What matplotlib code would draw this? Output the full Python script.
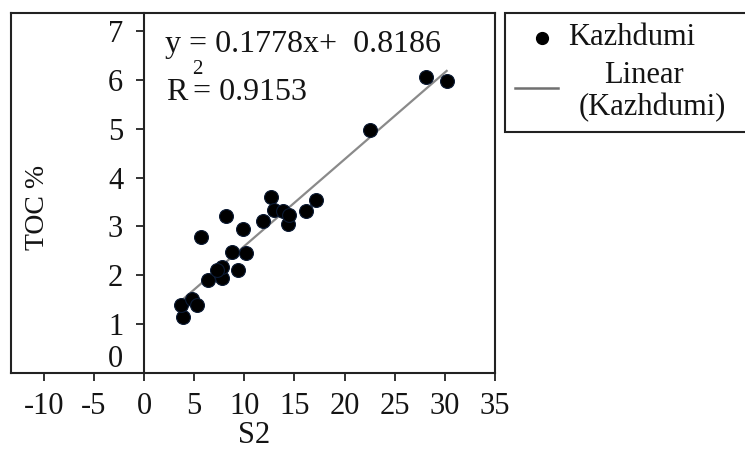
import matplotlib
matplotlib.use("Agg")
import matplotlib.pyplot as plt
from matplotlib.lines import Line2D
from matplotlib.patches import Rectangle
from matplotlib.transforms import ScaledTranslation
import numpy as np

plt.rcParams['font.family'] = ['Liberation Serif', 'DejaVu Serif']
plt.rcParams['axes.unicode_minus'] = False

# ---- data ----
s2 = [3.86, 3.66, 4.76, 5.25, 6.35, 7.75, 7.75, 9.40, 8.74, 10.17, 5.65, 8.15,
      9.90, 11.83, 12.66, 12.96, 13.83, 14.39, 14.46, 16.20, 17.15, 22.53,
      28.12, 30.18, 7.30]
toc = [1.15, 1.40, 1.51, 1.40, 1.91, 1.95, 2.17, 2.10, 2.48, 2.46, 2.79, 3.22,
       2.94, 3.12, 3.60, 3.34, 3.32, 3.05, 3.24, 3.32, 3.55, 4.97,
       6.06, 5.97, 2.10]
slope = 0.1778
intercept = 0.8186
r2 = 0.9153
series_name = "Kazhdumi"
x_ticks = [-10, -5, 0, 5, 10, 15, 20, 25, 30, 35]
y_ticks = [0, 1, 2, 3, 4, 5, 6, 7]

W, H = 745, 450
fig = plt.figure(figsize=(W / 100, H / 100), dpi=100)
ax = fig.add_axes([11 / W, 77 / H, 484 / W, 360 / H])

FS = 22
tc = '#141414'

ax.scatter(s2, toc, s=100, color='black', edgecolors='#0b1a33', linewidths=0.8, zorder=3)
xf = np.array([min(s2), max(s2)])
ax.plot(xf, slope * xf + intercept, color='#8a8a8a', lw=1.6, zorder=2)

ax.set_xlim(-13.26, 35)
ax.set_ylim(0, 7.37)
ax.set_xticks(x_ticks)
ax.set_xticklabels([str(v) for v in x_ticks])
ax.set_yticks(y_ticks)
ax.set_yticklabels([str(v) for v in y_ticks])

for sp in ax.spines.values():
    sp.set_linewidth(1.5)
    sp.set_color('#222222')
ax.spines['left'].set_position(('data', 0))
# outer box left edge
ax.plot([0, 0], [0, 1], transform=ax.transAxes, color='#222222', lw=1.5, clip_on=False)

ax.tick_params(axis='x', direction='out', length=6, width=1.3, pad=8,
               labelsize=FS, colors='#222222', labelcolor=tc)
ax.tick_params(axis='y', direction='out', length=6, width=1.3, pad=9,
               labelsize=FS, colors='#222222', labelcolor=tc)
# the zero label sits a bit above the axis
for lab in ax.get_yticklabels():
    if lab.get_text() == '0':
        lab.set_transform(lab.get_transform() + ScaledTranslation(0, 17 / 100, fig.dpi_scale_trans))

def ftext(px, py, s, **kw):
    kw.setdefault('color', tc)
    return fig.text(px / W, 1 - py / H, s, **kw)

ftext(38, 207, "TOC %", rotation=90, ha='center', va='center', fontsize=20)
ftext(254, 443, "S2", ha='center', va='baseline', fontsize=FS)

# trendline equation
ftext(165, 52, "y = %.4fx+  %.4f" % (slope, intercept), ha='left', va='baseline', fontsize=23)
ftext(166, 100, "R", ha='left', va='baseline', fontsize=23)
ftext(197, 74, "2", ha='center', va='baseline', fontsize=15)
ftext(193, 100, "= %.4f" % r2, ha='left', va='baseline', fontsize=23)

# legend
fig.patches.append(Rectangle((505 / W, 1 - 132 / H), 260 / W, 119 / H,
                             transform=fig.transFigure, facecolor='white',
                             edgecolor='#222222', lw=1.5, zorder=1))
fig.add_artist(Line2D([542 / W], [1 - 38 / H], marker='o', markersize=8.5,
                      color='black', linestyle='none', transform=fig.transFigure))
ftext(568, 45, series_name, ha='left', va='baseline', fontsize=FS)
fig.add_artist(Line2D([515 / W, 558 / W], [1 - 88 / H, 1 - 88 / H], color='#707070',
                      lw=1.8, transform=fig.transFigure))
ftext(644, 83, "Linear", ha='center', va='baseline', fontsize=FS)
ftext(652, 115, "(%s)" % series_name, ha='center', va='baseline', fontsize=FS)

fig.savefig("out.png", dpi=100)
